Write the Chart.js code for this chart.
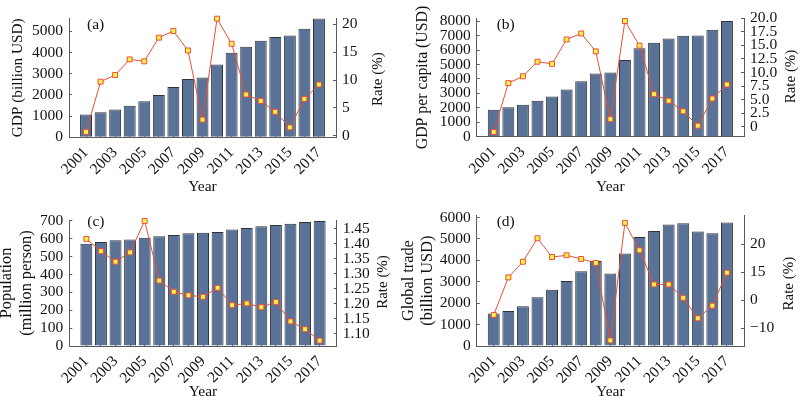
<!DOCTYPE html>
<html>
<head>
<meta charset="utf-8">
<script src="https://cdn.jsdelivr.net/npm/chart.js@4/dist/chart.umd.min.js"></script>
<style>
  html, body { margin: 0; padding: 0; background: #ffffff; }
  #wrap { position: relative; width: 800px; height: 397px; overflow: hidden; background: #ffffff; }
  canvas { position: absolute; }
</style>
</head>
<body>
<div id="wrap">
  <canvas id="pa" width="400" height="197" style="left:0;top:0"></canvas>
  <canvas id="pb" width="400" height="197" style="left:400px;top:0"></canvas>
  <canvas id="pc" width="400" height="210" style="left:0;top:197px"></canvas>
  <canvas id="pd" width="400" height="210" style="left:400px;top:197px"></canvas>
</div>
<script>
// ---------------- data ----------------
const years = [2001, 2002, 2003, 2004, 2005, 2006, 2007, 2008, 2009, 2010, 2011, 2012, 2013, 2014, 2015, 2016, 2017];
const labeledYears = [2001, 2003, 2005, 2007, 2009, 2011, 2013, 2015, 2017];

const gdp = [1080, 1180, 1310, 1490, 1700, 2000, 2370, 2745, 2820, 3430, 3985, 4270, 4550, 4730, 4805, 5120, 5600];
const gdpRate = [0.7, 9.7, 10.9, 13.7, 13.35, 17.6, 18.8, 15.3, 2.9, 21.0, 16.5, 7.4, 6.25, 4.3, 1.5, 6.6, 9.2];

const gdpPerCapita = [1865, 2040, 2210, 2490, 2790, 3260, 3840, 4375, 4440, 5320, 6130, 6500, 6800, 6990, 7010, 7400, 8020];
const gdpPerCapitaRate = [-0.97, 8.05, 9.3, 12.0, 11.6, 16.1, 17.2, 13.9, 1.4, 19.5, 14.95, 6.0, 4.8, 2.85, 0.2, 5.2, 7.8];

const population = [573, 582, 592, 597, 606, 614, 621, 631, 634, 638, 653, 661, 670, 677, 685, 694, 700];
const populationRate = [1.416, 1.375, 1.340, 1.371, 1.476, 1.277, 1.240, 1.228, 1.223, 1.253, 1.195, 1.201, 1.188, 1.206, 1.141, 1.115, 1.077];

const trade = [1520, 1630, 1860, 2280, 2630, 3040, 3490, 3970, 3390, 4320, 5090, 5370, 5680, 5730, 5350, 5270, 5770];
const tradeRate = [-5.3, 8.1, 13.7, 22.1, 15.4, 16.0, 14.7, 13.3, -14.4, 27.6, 17.8, 5.6, 5.6, 0.8, -6.5, -2.0, 9.8];

// tick values and labels
const gdpTicks = [0, 1000, 2000, 3000, 4000, 5000];
const gdpTickLabels = ['0', '1000', '2000', '3000', '4000', '5000'];
const gdpRateTicks = [0, 5, 10, 15, 20];
const gdpRateTickLabels = ['0', '5', '10', '15', '20'];

const gdpPcTicks = [0, 1000, 2000, 3000, 4000, 5000, 6000, 7000, 8000];
const gdpPcTickLabels = ['0', '1000', '2000', '3000', '4000', '5000', '6000', '7000', '8000'];
const gdpPcRateTicks = [0, 2.5, 5, 7.5, 10, 12.5, 15, 17.5, 20];
const gdpPcRateTickLabels = ['0', '2.5', '5.0', '7.5', '10.0', '12.5', '15.0', '17.5', '20.0'];

const popTicks = [0, 100, 200, 300, 400, 500, 600, 700];
const popTickLabels = ['0', '100', '200', '300', '400', '500', '600', '700'];
const popRateTicks = [1.10, 1.15, 1.20, 1.25, 1.30, 1.35, 1.40, 1.45];
const popRateTickLabels = ['1.10', '1.15', '1.20', '1.25', '1.30', '1.35', '1.40', '1.45'];

const tradeTicks = [0, 1000, 2000, 3000, 4000, 5000, 6000];
const tradeTickLabels = ['0', '1000', '2000', '3000', '4000', '5000', '6000'];
const tradeRateTicks = [-10, 0, 10, 20];
const tradeRateTickLabels = ['\u221210', '0', '15', '20'];

// ---------------- style ----------------
const FONT = "'Liberation Serif', 'Times New Roman', serif";
const RED = '#e5503a';
const YELLOW = '#fff04a';
const BAR = '#5a7297';
const BAR_EDGE = '#2f3237';
const AXIS = '#5a5a5a';
const TEXT = '#111111';

Chart.defaults.font.family = FONT;
Chart.defaults.font.size = 15.5;
Chart.defaults.color = TEXT;

const panelText = {
  id: 'panelText',
  afterDraw(chart, args, opts) {
    const ctx = chart.ctx;
    const ca = chart.chartArea;
    ctx.save();
    ctx.fillStyle = TEXT;
    ctx.font = '15.5px ' + FONT;
    ctx.textBaseline = 'middle';
    ctx.textAlign = 'left';
    ctx.fillText(opts.letter, ca.left + opts.letterDx, opts.letterY);
    ctx.font = '15px ' + FONT;
    ctx.translate(opts.rightX, (ca.top + ca.bottom) / 2 + opts.rightDy);
    ctx.rotate(-Math.PI / 2);
    ctx.textAlign = 'center';
    ctx.fillText(opts.rightTitle, 0, 0);
    ctx.restore();
  }
};

function fixTicks(vals) {
  return scale => { scale.ticks = vals.map(v => ({ value: v })); };
}

function makePanel(id, p) {
  const gridOpts = { display: true, drawOnChartArea: false, drawTicks: true, tickLength: -3, color: AXIS, lineWidth: 1, offset: false };
  const borderOpts = { display: true, color: AXIS, width: 1 };
  new Chart(document.getElementById(id), {
    type: 'bar',
    data: {
      datasets: [
        {
          type: 'line',
          label: 'Rate',
          data: years.map((x, i) => ({ x: x, y: p.rates[i] })),
          yAxisID: 'y1',
          order: 0,
          borderColor: RED,
          borderWidth: 1,
          pointStyle: 'rect',
          pointRadius: 3.5,
          pointBackgroundColor: YELLOW,
          pointBorderColor: RED,
          pointBorderWidth: 1,
          tension: 0,
          clip: false
        },
        {
          type: 'bar',
          label: 'Value',
          data: years.map((x, i) => ({ x: x, y: p.bars[i] })),
          yAxisID: 'y',
          order: 1,
          backgroundColor: BAR,
          borderColor: BAR_EDGE,
          borderWidth: 1,
          categoryPercentage: 1,
          barPercentage: 0.82
        }
      ]
    },
    options: {
      responsive: false,
      animation: false,
      events: [],
      layout: { padding: { top: p.top, left: 0, right: 0, bottom: 0 } },
      plugins: {
        legend: { display: false },
        tooltip: { enabled: false },
        panelText: { letter: p.letter, letterDx: p.letterDx, letterY: 25, rightTitle: 'Rate (%)', rightX: p.rightTitleX, rightDy: p.rightTitleDy }
      },
      scales: {
        x: {
          type: 'linear',
          position: 'bottom',
          min: 1999.83,
          max: 2018.17,
          offset: false,
          afterBuildTicks: fixTicks(years),
          afterFit: s => { s.height = p.xH; },
          grid: gridOpts,
          border: borderOpts,
          ticks: {
            autoSkip: false,
            minRotation: 45,
            maxRotation: 45,
            padding: 9.3,
            callback: v => labeledYears.includes(v) ? String(v) : ''
          },
          title: { display: true, text: 'Year', padding: { top: 0, bottom: p.yearPad } }
        },
        y: {
          type: 'linear',
          position: 'left',
          min: 0,
          max: p.leftMax,
          afterBuildTicks: fixTicks(p.leftTicks),
          afterFit: s => { s.width = p.left; },
          grid: gridOpts,
          border: borderOpts,
          ticks: { autoSkip: false, padding: 9, callback: (v, i) => p.leftLabels[i] },
          title: {
            display: true,
            text: p.leftTitle,
            padding: { top: p.leftTitlePad, bottom: 0 },
            font: { size: p.leftTitleSize, lineHeight: p.leftTitleLH }
          }
        },
        y1: {
          type: 'linear',
          position: 'right',
          min: p.rMin,
          max: p.rMax,
          afterBuildTicks: fixTicks(p.rightTicks),
          afterFit: s => { s.width = p.rightW; },
          grid: gridOpts,
          border: borderOpts,
          ticks: { autoSkip: false, padding: 9, callback: (v, i) => p.rightLabels[i] }
        }
      }
    },
    plugins: [panelText]
  });
}

makePanel('pa', {
  bars: gdp, rates: gdpRate,
  leftTicks: gdpTicks, leftLabels: gdpTickLabels, rightTicks: gdpRateTicks, rightLabels: gdpRateTickLabels,
  leftTitle: 'GDP (billion USD)', leftTitlePad: 9.1, leftTitleSize: 15.3, leftTitleLH: 1.2,
  letter: '(a)', letterDx: 18,
  top: 12, left: 69, rightW: 64, xH: 59.7, yearPad: 1.2,
  leftMax: 5614, rMin: -0.27, rMax: 21.07,
  rightTitleX: 378.3, rightTitleDy: 1.3
});

makePanel('pb', {
  bars: gdpPerCapita, rates: gdpPerCapitaRate,
  leftTicks: gdpPcTicks, leftLabels: gdpPcTickLabels, rightTicks: gdpPcRateTicks, rightLabels: gdpPcRateTickLabels,
  leftTitle: 'GDP per capita (USD)', leftTitlePad: 13.8, leftTitleSize: 15.8, leftTitleLH: 1.2,
  letter: '(b)', letterDx: 20,
  top: 9.2, left: 76.7, rightW: 56, xH: 60.3, yearPad: 1.2,
  leftMax: 8199, rMin: -1.83, rMax: 20.0,
  rightTitleX: 391, rightTitleDy: -1
});

makePanel('pc', {
  bars: population, rates: populationRate,
  leftTicks: popTicks, leftLabels: popTickLabels, rightTicks: popRateTicks, rightLabels: popRateTickLabels,
  leftTitle: ['Population', '(million person)'], leftTitlePad: -3.3, leftTitleSize: 16.3, leftTitleLH: 1.227,
  letter: '(c)', letterDx: 18,
  top: 23, left: 69.3, rightW: 63.3, xH: 61, yearPad: 5.7,
  leftMax: 705.5, rMin: 1.059, rMax: 1.479,
  rightTitleX: 382.7, rightTitleDy: -1
});

makePanel('pd', {
  bars: trade, rates: tradeRate,
  leftTicks: tradeTicks, leftLabels: tradeTickLabels, rightTicks: tradeRateTicks, rightLabels: tradeRateTickLabels,
  leftTitle: ['Global trade', '(billion USD)'], leftTitlePad: -1.2, leftTitleSize: 16.3, leftTitleLH: 1.166,
  letter: '(d)', letterDx: 20,
  top: 16, left: 76.7, rightW: 56, xH: 61, yearPad: 5.7,
  leftMax: 6105, rMin: -16.4, rMax: 30.3,
  rightTitleX: 389.3, rightTitleDy: 3
});
</script>
</body>
</html>
